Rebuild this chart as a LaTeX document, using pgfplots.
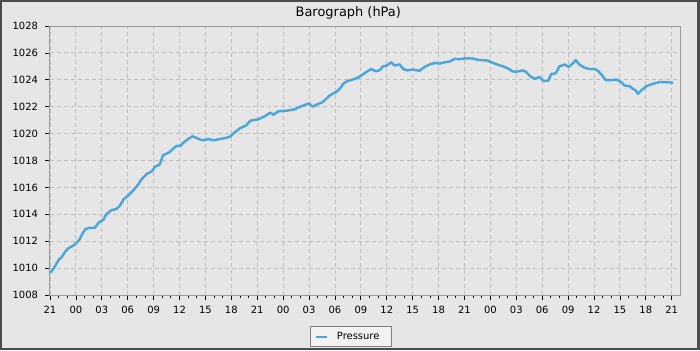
\documentclass[border=0pt]{standalone}
\usepackage{pgfplots}
\pgfplotsset{compat=1.18}
\usetikzlibrary{backgrounds,calc}
\usepackage{fontspec}
\setmainfont{DejaVu Sans}
\definecolor{outerframe}{RGB}{77,77,77}
\definecolor{bg}{RGB}{230,230,230}
\definecolor{axframe}{RGB}{153,153,153}
\definecolor{gridc}{RGB}{190,190,190}
\definecolor{pres}{RGB}{72,166,220}
\definecolor{legfill}{RGB}{242,242,242}
\definecolor{legdraw}{RGB}{128,128,128}
\begin{document}
\begin{tikzpicture}[x=1bp,y=1bp]
\begin{axis}[
  at={(0,0)}, anchor=south west,
  scale only axis, width=630bp, height=269bp,
  xmin=0, xmax=72.96, ymin=1008, ymax=1028,
  xtick={0,3,...,72},
  xticklabels={21,00,03,06,09,12,15,18,21,00,03,06,09,12,15,18,21,00,03,06,09,12,15,18,21},
  ytick={1008,1010,...,1028},
  minor x tick num=2, minor y tick num=1,
  xtick pos=bottom, ytick pos=left,
  tick align=outside,
  major tick length=5bp, minor tick length=3bp,
  every tick/.style={black, line width=0.8bp},
  axis line style={draw=axframe, line width=1bp},
  grid=major,
  major grid style={draw=gridc, line width=0.9bp, dash pattern=on 4bp off 3bp},
  /pgf/number format/assume math mode=true,
  /pgf/number format/1000 sep={},
  ticklabel style={font=\fontsize{10}{12}\selectfont},
  yticklabel style={xshift=-3.5bp},
  xticklabel style={yshift=-3bp},
  title={Barograph (hPa)},
  title style={at={(0.4735,1)}, anchor=base, yshift=3.2bp, font=\fontsize{13}{15}\selectfont},
  legend style={at={(0.4127,-0.193)}, anchor=south west, draw=legdraw, fill=legfill,
    font=\fontsize{10}{12}\selectfont, inner xsep=5bp, inner ysep=4.75bp, line width=0.8bp,
    nodes={inner sep=0pt, text height=8bp, text depth=2.5bp},
    /tikz/every odd column/.append style={column sep=8.5bp}},
  legend image code/.code={\draw[#1, line width=2bp] (0bp,0bp) -- (11bp,0bp);},
  legend cell align=left,
]
\addplot[pres, line width=2.4bp, line join=round] table {
0.08 1009.65
0.54 1010.1
1.0 1010.6
1.4 1010.85
1.7 1011.17
2.1 1011.47
2.67 1011.66
3.1 1011.9
3.45 1012.16
3.7 1012.5
4.1 1012.9
4.6 1013.0
5.2 1013.0
5.65 1013.4
6.2 1013.6
6.5 1014.0
7.1 1014.3
7.7 1014.4
8.1 1014.65
8.5 1015.1
9.06 1015.4
9.6 1015.75
10.2 1016.2
10.6 1016.6
11.2 1017.0
11.8 1017.2
12.2 1017.55
12.7 1017.7
13.1 1018.4
13.8 1018.6
14.3 1018.9
14.7 1019.1
15.1 1019.1
15.5 1019.35
16.0 1019.6
16.5 1019.8
16.9 1019.7
17.4 1019.55
17.8 1019.5
18.35 1019.6
18.9 1019.5
19.7 1019.6
20.5 1019.7
20.9 1019.8
21.4 1020.1
22.0 1020.4
22.7 1020.6
23.2 1020.96
24.1 1021.06
24.9 1021.3
25.5 1021.56
25.9 1021.4
26.4 1021.65
27.4 1021.7
28.3 1021.8
28.9 1021.98
30.0 1022.25
30.4 1022.0
30.85 1022.15
31.6 1022.35
32.4 1022.84
33.15 1023.1
33.6 1023.36
34.0 1023.73
34.4 1023.9
35.07 1024.02
35.65 1024.15
36.23 1024.4
36.6 1024.57
37.2 1024.8
37.7 1024.64
38.16 1024.7
38.55 1025.0
39.0 1025.06
39.5 1025.3
39.9 1025.06
40.5 1025.14
40.9 1024.8
41.4 1024.7
42.0 1024.77
42.8 1024.67
43.4 1024.96
43.95 1025.14
44.65 1025.26
45.1 1025.2
45.7 1025.3
46.3 1025.36
46.85 1025.56
47.4 1025.53
48.2 1025.6
48.97 1025.58
49.55 1025.48
50.1 1025.46
50.7 1025.43
51.1 1025.3
51.7 1025.16
52.45 1025.0
53.0 1024.86
53.6 1024.62
54.0 1024.6
54.4 1024.65
54.8 1024.7
55.16 1024.57
55.6 1024.27
56.1 1024.07
56.7 1024.2
57.1 1023.93
57.7 1023.93
58.05 1024.44
58.55 1024.47
59.0 1025.0
59.6 1025.14
60.06 1024.96
60.5 1025.2
60.9 1025.46
61.3 1025.14
61.9 1024.9
62.5 1024.8
63.07 1024.8
63.46 1024.67
63.96 1024.32
64.35 1023.98
65.0 1023.98
65.6 1024.02
66.16 1023.83
66.5 1023.58
67.1 1023.53
67.5 1023.33
67.8 1023.23
68.1 1022.96
68.5 1023.23
69.06 1023.53
69.8 1023.7
70.6 1023.83
71.4 1023.83
72.15 1023.78
};
\addlegendentry{Pressure\rule{7bp}{0pt}}
\coordinate (sw) at (rel axis cs:0,0);
\end{axis}
\pgfresetboundingbox
\begin{pgfonlayer}{background}
\fill[outerframe] ($(sw)+(-50,-55)$) rectangle ++(700,350);
\fill[bg] ($(sw)+(-48,-53)$) rectangle ++(695,346);
\end{pgfonlayer}
\useasboundingbox ($(sw)+(-50,-55)$) rectangle ++(700,350);
\end{tikzpicture}
\end{document}
